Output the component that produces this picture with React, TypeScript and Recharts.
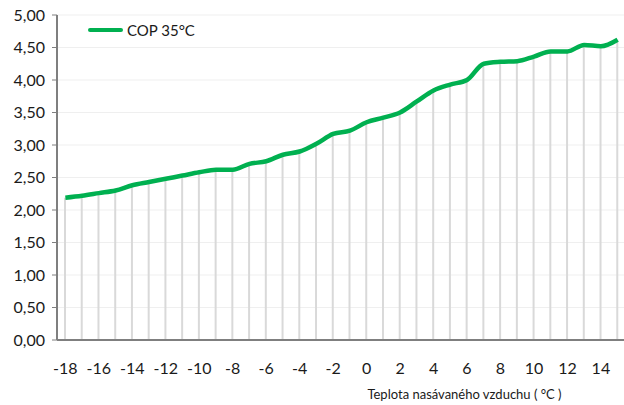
import { ComposedChart, Bar, Line, XAxis, YAxis, CartesianGrid } from 'recharts';

// teplota nasávaného vzduchu (°C)
const teploty = [
  -18, -17, -16, -15, -14, -13, -12, -11, -10, -9, -8, -7, -6, -5, -4, -3, -2,
  -1, 0, 1, 2, 3, 4, 5, 6, 7, 8, 9, 10, 11, 12, 13, 14, 15,
];
// COP při 35°C
const cop35 = [
  2.19, 2.22, 2.26, 2.3, 2.38, 2.43, 2.48, 2.53, 2.58, 2.62, 2.62, 2.71, 2.75,
  2.85, 2.9, 3.02, 3.17, 3.22, 3.35, 3.42, 3.5, 3.67, 3.84, 3.93, 4.0, 4.25,
  4.28, 4.29, 4.36, 4.44, 4.44, 4.54, 4.52, 4.62,
];
const yTicks = [0, 0.5, 1, 1.5, 2, 2.5, 3, 3.5, 4, 4.5, 5];

const data = teploty.map((t, i) => ({ t, cop: cop35[i] }));

const FONT = 'Lato, "Open Sans", sans-serif';
const GREEN = '#00B050';
const TEXT = '#1a1a1a';

// legenda mimo graf, aby neposouvala plochu grafu
function LegendaCOP() {
  return (
    <div
      style={{
        position: 'absolute', left: 88, top: 20, height: 20,
        display: 'flex', alignItems: 'center', fontFamily: FONT, fontSize: 15, color: TEXT,
      }}
    >
      <span style={{ display: 'inline-block', width: 35, height: 4, background: GREEN, borderRadius: 2, marginRight: 4 }} />
      COP 35°C
    </div>
  );
}

export default function App() {
  return (
    <div style={{ position: 'fixed', left: 0, top: 0, width: 624, height: 405, overflow: 'hidden', background: '#fff' }}>
      <ComposedChart width={626} height={405} data={data} margin={{ top: 15, right: 0, left: 0, bottom: 0 }}>
        <CartesianGrid vertical={false} stroke="#EFEFEF" strokeWidth={1} />
        <XAxis
          dataKey="t"
          interval={1}
          height={65}
          tickLine={false}
          tickMargin={17}
          axisLine={{ stroke: '#7F7F7F', strokeWidth: 2 }}
          tick={{ fontSize: 16, fill: TEXT, fontFamily: FONT }}
          label={{
            value: 'Teplota nasávaného vzduchu ( °C )',
            position: 'insideBottom',
            offset: 6,
            dx: 123,
            style: { fontSize: 13, fill: TEXT, fontFamily: FONT },
          }}
        />
        <YAxis
          domain={[0, 5]}
          ticks={yTicks}
          width={57}
          tickSize={5}
          tickMargin={7}
          axisLine={{ stroke: '#7F7F7F', strokeWidth: 2 }}
          tickLine={{ stroke: '#7F7F7F' }}
          tick={{ fontSize: 16, fill: TEXT, fontFamily: FONT }}
          tickFormatter={(v: number) => v.toFixed(2).replace('.', ',')}
        />
        <Bar dataKey="cop" barSize={2} fill="#D9D9D9" isAnimationActive={false} />
        <Line
          type="monotone"
          dataKey="cop"
          stroke={GREEN}
          strokeWidth={4.5}
          dot={false}
          activeDot={false}
          isAnimationActive={false}
        />
      </ComposedChart>
      <LegendaCOP />
    </div>
  );
}
